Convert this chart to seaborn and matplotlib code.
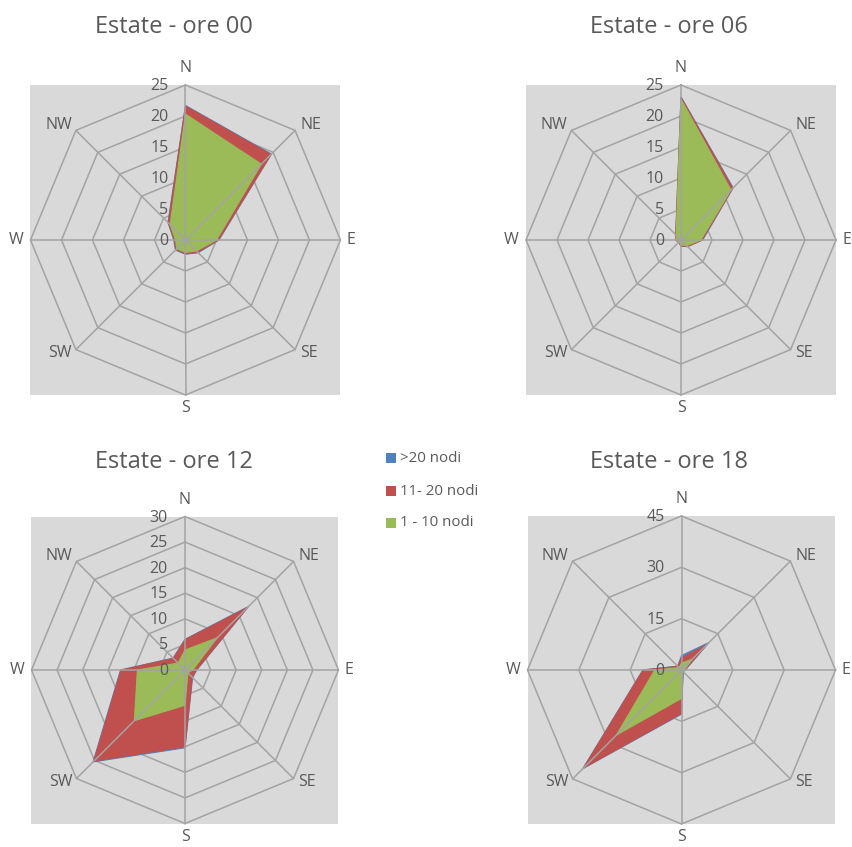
import numpy as np
import matplotlib
matplotlib.use("Agg")
import matplotlib.pyplot as plt
from matplotlib.transforms import offset_copy
from matplotlib.patches import Rectangle
import seaborn as sns

sns.set_style("white")
plt.rcParams["font.family"] = ["Open Sans", "DejaVu Sans"]

# Wind direction sectors (clockwise from north)
directions = ["N", "NE", "E", "SE", "S", "SW", "W", "NW"]
series_names = [">20 nodi", "11- 20 nodi", "1 - 10 nodi"]

# Frequencies per sector for each hour
titles = ["Estate - ore 00", "Estate - ore 06", "Estate - ore 12", "Estate - ore 18"]

h00_gt20 = [21.7, 19.6, 5.4, 2.9, 2.3, 2.3, 1.9, 4.0]
h00_11_20 = [21.6, 19.5, 5.3, 2.8, 2.2, 2.2, 1.8, 3.9]
h00_1_10 = [20.3, 17.3, 5.0, 2.5, 2.0, 2.0, 1.6, 3.5]

h06_gt20 = [23.1, 11.9, 3.5, 1.5, 1.0, 0.5, 0.9, 1.2]
h06_11_20 = [23.0, 11.8, 3.4, 1.5, 1.0, 0.5, 0.9, 1.2]
h06_1_10 = [22.7, 11.4, 3.2, 1.3, 0.8, 0.4, 0.8, 1.1]

h12_gt20 = [6.0, 17.6, 2.3, 2.1, 15.2, 25.4, 12.6, 3.3]
h12_11_20 = [5.9, 17.3, 2.2, 2.0, 15.0, 25.2, 12.5, 3.2]
h12_1_10 = [3.9, 8.9, 1.5, 0.8, 6.9, 14.0, 9.3, 1.9]

h18_gt20 = [4.2, 11.4, 1.1, 0.7, 12.9, 40.8, 11.3, 1.6]
h18_11_20 = [3.5, 10.5, 1.0, 0.6, 12.7, 40.5, 11.2, 1.5]
h18_1_10 = [2.0, 4.5, 0.8, 0.4, 8.3, 26.9, 7.8, 1.0]

ticks00 = [0, 5, 10, 15, 20, 25]
ticks06 = [0, 5, 10, 15, 20, 25]
ticks12 = [0, 5, 10, 15, 20, 25, 30]
ticks18 = [0, 15, 30, 45]

data = [
    (h00_gt20, h00_11_20, h00_1_10, ticks00),
    (h06_gt20, h06_11_20, h06_1_10, ticks06),
    (h12_gt20, h12_11_20, h12_1_10, ticks12),
    (h18_gt20, h18_11_20, h18_1_10, ticks18),
]

colors = sns.color_palette(["#4F81BD", "#C0504D", "#9BBB59"])
bg = "#D9D9D9"
grid_col = "#A3A3A3"
txt_col = "#595959"

W_PX, H_PX = 853, 847
fig = plt.figure(figsize=(W_PX / 100, H_PX / 100), dpi=100)

# centre x, centre y, radius (pixels) and title position for each panel
layout = [
    (185.5, 240, 155, 174, 27),
    (681.0, 240, 155, 669, 27),
    (185.0, 670, 153.5, 174, 462),
    (681.5, 670, 154, 669, 462),
]

angles = np.deg2rad(np.arange(8) * 45.0)
sx, sy = np.sin(angles), np.cos(angles)


def closed(a):
    return np.append(a, a[0])


for (cx, cy, R, tx, ty), title, (s1, s2, s3, ticks) in zip(layout, titles, data):
    rmax = ticks[-1]
    ax = fig.add_axes([(cx - R) / W_PX, (H_PX - cy - R) / H_PX, 2 * R / W_PX, 2 * R / H_PX])
    ax.set_facecolor(bg)
    ax.set_xlim(-rmax, rmax)
    ax.set_ylim(-rmax, rmax)
    ax.set_xticks([])
    ax.set_yticks([])
    for sp in ax.spines.values():
        sp.set_visible(False)

    # octagonal rings
    for t in ticks[1:]:
        ax.plot(closed(t * sx), closed(t * sy), color=grid_col, lw=1.1, zorder=1, clip_on=False)

    # stacked areas: widest drawn first
    for vals, col, z in zip((s1, s2, s3), colors, (2, 3, 4)):
        v = np.asarray(vals)
        ax.fill(closed(v * sx), closed(v * sy), facecolor=col, edgecolor=col, lw=0.8, zorder=z)

    # spokes
    for x, y in zip(sx, sy):
        ax.plot([0, rmax * x], [0, rmax * y], color=grid_col, lw=1.1, zorder=5, clip_on=False)

    # value labels along the north axis
    for t in ticks:
        tr = offset_copy(ax.transData, fig=fig, x=-17, y=-1, units="dots")
        ax.text(0, t, str(t), transform=tr, ha="right", va="center",
                fontsize=11.5, color=txt_col, zorder=6)

    # direction labels
    placements = {
        "N": (0, 9, "center", "bottom"),
        "NE": (5, 5, "left", "center"),
        "E": (6, 0, "left", "center"),
        "SE": (5, -3, "left", "center"),
        "S": (0, -5, "center", "top"),
        "SW": (-4, -3, "right", "center"),
        "W": (-7, 0, "right", "center"),
        "NW": (-4, 5, "right", "center"),
    }
    for d, x, y in zip(directions, sx, sy):
        dx, dy, ha, va = placements[d]
        tr = offset_copy(ax.transData, fig=fig, x=dx, y=dy, units="dots")
        ax.text(rmax * x, rmax * y, d, transform=tr, ha=ha, va=va,
                fontsize=11.5, color=txt_col, clip_on=False)

    fig.text(tx / W_PX, 1 - ty / H_PX, title, ha="center", va="center",
             fontsize=17, color=txt_col)

# legend in the middle of the figure
for name, col, yc in zip(series_names, colors, (458, 491.5, 523)):
    fig.patches.append(Rectangle((386 / W_PX, 1 - (yc + 5) / H_PX), 10 / W_PX, 10 / H_PX,
                                 transform=fig.transFigure, facecolor=col, edgecolor="none"))
    fig.text(400 / W_PX, 1 - yc / H_PX, name, ha="left", va="center",
             fontsize=10.8, color=txt_col)

fig.savefig("out.png", dpi=100, facecolor="white")
